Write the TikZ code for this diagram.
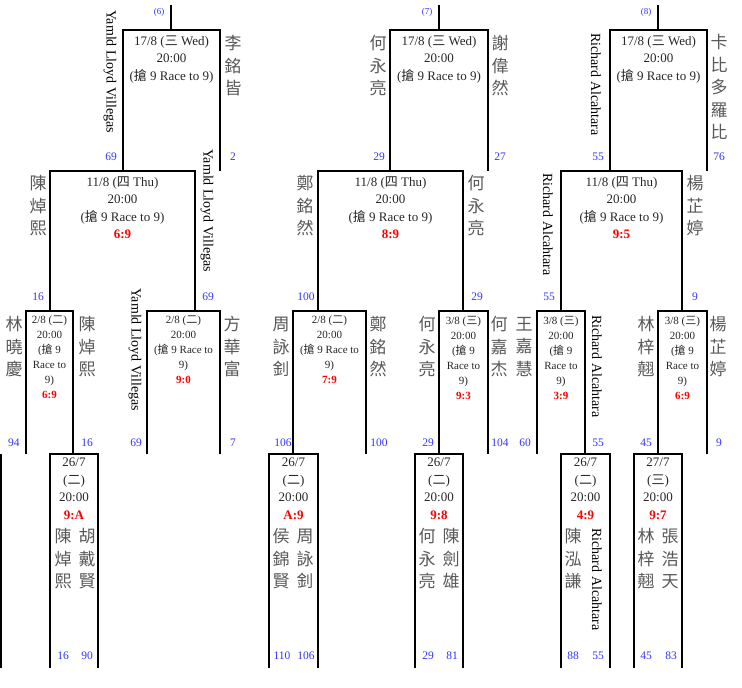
\documentclass[tikz,border=0pt]{standalone}
\usepackage{fontspec}
\setmainfont{Liberation Serif}
\newfontfamily\zhfont{Noto Sans CJK TC}
\newcommand\zh[1]{{\zhfont #1}}
\definecolor{seedblue}{RGB}{51,51,255}
\definecolor{scorered}{RGB}{255,0,0}
\newcommand\matchscore[1]{\textcolor{scorered}{\textbf{#1}}}
\begin{document}
\begin{tikzpicture}[x=1pt,y=-1pt,
    bracket/.style={line width=2.4pt, black},
    boxtext/.style={font=\fontsize{13}{17.5}\selectfont, align=center, text=black!85, inner sep=0pt},
    smalltext/.style={font=\fontsize{11}{15}\selectfont, align=center, text=black!85, inner sep=0pt},
    zhname/.style={font=\zhfont\fontsize{17}{22.5}\selectfont, align=center, text=black!65, inner sep=0pt},
    enname/.style={font=\fontsize{14}{14}\selectfont, rotate=-90, anchor=west, inner sep=0pt},
    seed/.style={font=\fontsize{11.5}{11.5}\selectfont, text=seedblue, inner sep=0pt},
    matchno/.style={font=\fontsize{9}{9}\selectfont, text=seedblue, inner sep=0pt}]
    \useasboundingbox (0,0) rectangle (742,688);
        % bracket lines
        \foreach \x in {171,439,658}
            \draw [bracket] (\x,5)--(\x,30);
        \foreach \l/\r/\t/\b in {123/220/30/171, 390/488/30/171, 610/707/30/171,
                50/195/171/311, 318/463/171/311, 561/682/171/311,
                26/73/311/454, 147/220/311/454, 293/366/311/454,
                439/488/311/454, 537/585/311/454, 658/707/311/454,
                50/98/454/668, 269/318/454/668, 415/463/454/668,
                561/610/454/668, 634/682/454/668}
            \draw [bracket] (\l,\b)--(\l,\t)--(\r,\t)--(\r,\b);
        \draw 
            [bracket] (1.2,454)--(1.2,668);
        % 17/8
        \node[matchno] (no6) at (159,12) {(6)};
        \node[matchno] (no7) at (427,12) {(7)};
        \node[matchno] (no8) at (646,12) {(8)};
        \node[boxtext] (m6) at (171.5,59.5) {17/8 (\zh{三} Wed)\\20:00\\(\zh{搶} 9 Race to 9)};
        \node[boxtext] (m7) at (439,59.5) {17/8 (\zh{三} Wed)\\20:00\\(\zh{搶} 9 Race to 9)};
        \node[boxtext] (m8) at (658.5,59.5) {17/8 (\zh{三} Wed)\\20:00\\(\zh{搶} 9 Race to 9)};
        \node[enname] (m6a) at (110,10) {Yamld Lloyd Villegas};
        \node[zhname] (m6b) at (233,66) {李\\銘\\皆};
        \node[zhname] (m7a) at (378,66) {何\\永\\亮};
        \node[zhname] (m7b) at (500,66) {謝\\偉\\然};
        \node[enname] (m8a) at (596,33) {Richard Alcahtara};
        \node[zhname] (m8b) at (719,87) {卡\\比\\多\\羅\\比};
        \node[seed] (s6a) at (111,157) {69};
        \node[seed] (s6b) at (233,157) {2};
        \node[seed] (s7a) at (379,157) {29};
        \node[seed] (s7b) at (500,157) {27};
        \node[seed] (s8a) at (598,157) {55};
        \node[seed] (s8b) at (719,157) {76};
        % 11/8
        \node[boxtext] (q1) at (122.5,207.5) {11/8 (\zh{四} Thu)\\20:00\\(\zh{搶} 9 Race to 9)\\\matchscore{6:9}};
        \node[boxtext] (q2) at (390.5,207.5) {11/8 (\zh{四} Thu)\\20:00\\(\zh{搶} 9 Race to 9)\\\matchscore{8:9}};
        \node[boxtext] (q3) at (621.5,207.5) {11/8 (\zh{四} Thu)\\20:00\\(\zh{搶} 9 Race to 9)\\\matchscore{9:5}};
        \node[zhname] (q1a) at (38,206) {陳\\焯\\熙};
        \node[enname] (q1b) at (207,149) {Yamld Lloyd Villegas};
        \node[zhname] (q2a) at (305,206) {鄭\\銘\\然};
        \node[zhname] (q2b) at (476,206) {何\\永\\亮};
        \node[enname] (q3a) at (548,173) {Richard Alcahtara};
        \node[zhname] (q3b) at (695,206) {楊\\芷\\婷};
        \node[seed] (t1a) at (38,297) {16};
        \node[seed] (t1b) at (208,297) {69};
        \node[seed] (t2a) at (306,297) {100};
        \node[seed] (t2b) at (477,297) {29};
        \node[seed] (t3a) at (549,297) {55};
        \node[seed] (t3b) at (695,297) {9};
        % 2/8 and 3/8
        \node[smalltext] (r1) at (49.5,357.5) {2/8 (\zh{二})\\20:00\\(\zh{搶} 9\\Race to\\9)\\\matchscore{6:9}};
        \node[smalltext] (r2) at (183.5,350) {2/8 (\zh{二})\\20:00\\(\zh{搶} 9 Race to\\9)\\\matchscore{9:0}};
        \node[smalltext] (r3) at (329.5,350) {2/8 (\zh{二})\\20:00\\(\zh{搶} 9 Race to\\9)\\\matchscore{7:9}};
        \node[smalltext] (r4) at (463.5,357.5) {3/8 (\zh{三})\\20:00\\(\zh{搶} 9\\Race to\\9)\\\matchscore{9:3}};
        \node[smalltext] (r5) at (561,357.5) {3/8 (\zh{三})\\20:00\\(\zh{搶} 9\\Race to\\9)\\\matchscore{3:9}};
        \node[smalltext] (r6) at (682.5,357.5) {3/8 (\zh{三})\\20:00\\(\zh{搶} 9\\Race to\\9)\\\matchscore{6:9}};
        \node[zhname] (r1a) at (14,347) {林\\曉\\慶};
        \node[zhname] (r1b) at (87,347) {陳\\焯\\熙};
        \node[enname] (r2a) at (135,288) {Yamld Lloyd Villegas};
        \node[zhname] (r2b) at (232,347) {方\\華\\富};
        \node[zhname] (r3a) at (281,347) {周\\詠\\釗};
        \node[zhname] (r3b) at (378,347) {鄭\\銘\\然};
        \node[zhname] (r4a) at (427,347) {何\\永\\亮};
        \node[zhname] (r4b) at (499,347) {何\\嘉\\杰};
        \node[zhname] (r5a) at (524,347) {王\\嘉\\慧};
        \node[enname] (r5b) at (597,315) {Richard Alcahtara};
        \node[zhname] (r6a) at (646,347) {林\\梓\\翹};
        \node[zhname] (r6b) at (718,347) {楊\\芷\\婷};
        \node[seed] (u1a) at (14,443) {94};
        \node[seed] (u1b) at (87,443) {16};
        \node[seed] (u2a) at (136,443) {69};
        \node[seed] (u2b) at (233,443) {7};
        \node[seed] (u3a) at (283,443) {106};
        \node[seed] (u3b) at (379,443) {100};
        \node[seed] (u4a) at (428,443) {29};
        \node[seed] (u4b) at (500,443) {104};
        \node[seed] (u5a) at (525,443) {60};
        \node[seed] (u5b) at (598,443) {55};
        \node[seed] (u6a) at (646,443) {45};
        \node[seed] (u6b) at (719,443) {9};
        % 26/7 and 27/7
        \node[boxtext] (p1) at (74,489) {26/7\\(\zh{二})\\20:00\\\matchscore{9:A}};
        \node[boxtext] (p2) at (293.5,489) {26/7\\(\zh{二})\\20:00\\\matchscore{A:9}};
        \node[boxtext] (p3) at (439,489) {26/7\\(\zh{二})\\20:00\\\matchscore{9:8}};
        \node[boxtext] (p4) at (585.5,489) {26/7\\(\zh{二})\\20:00\\\matchscore{4:9}};
        \node[boxtext] (p5) at (658,489) {27/7\\(\zh{三})\\20:00\\\matchscore{9:7}};
        \node[zhname] (p1a) at (63,559) {陳\\焯\\熙};
        \node[zhname] (p1b) at (87,559) {胡\\戴\\賢};
        \node[zhname] (p2a) at (281,559) {侯\\錦\\賢};
        \node[zhname] (p2b) at (305,559) {周\\詠\\釗};
        \node[zhname] (p3a) at (427,559) {何\\永\\亮};
        \node[zhname] (p3b) at (451,559) {陳\\劍\\雄};
        \node[zhname] (p4a) at (573,559) {陳\\泓\\謙};
        \node[enname] (p4b) at (597,528) {Richard Alcahtara};
        \node[zhname] (p5a) at (646,559) {林\\梓\\翹};
        \node[zhname] (p5b) at (670,559) {張\\浩\\天};
        \node[seed] (v1a) at (63,656) {16};
        \node[seed] (v1b) at (87,656) {90};
        \node[seed] (v2a) at (282,656) {110};
        \node[seed] (v2b) at (306,656) {106};
        \node[seed] (v3a) at (428,656) {29};
        \node[seed] (v3b) at (452,656) {81};
        \node[seed] (v4a) at (573,656) {88};
        \node[seed] (v4b) at (598,656) {55};
        \node[seed] (v5a) at (646,656) {45};
        \node[seed] (v5b) at (671,656) {83};
\end{tikzpicture}
\end{document}
